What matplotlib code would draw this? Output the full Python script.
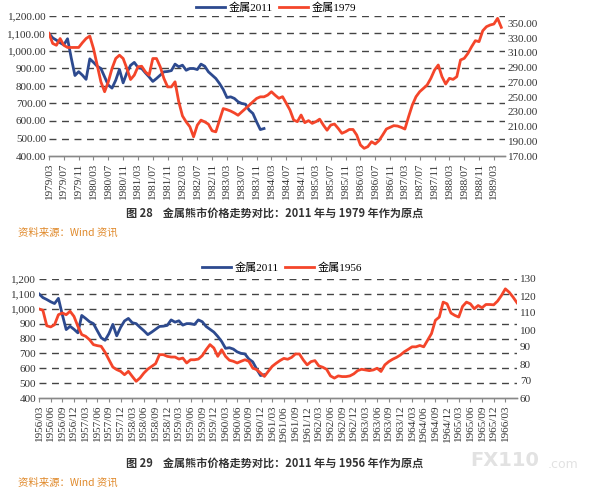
import matplotlib
matplotlib.use("Agg")
import matplotlib.pyplot as plt
import numpy as np

# ---------------- data ----------------
# 金属2011 index (same series used in both panels), monthly from start
metal2011 = [1100, 1075, 1062, 1047, 1035, 1070, 960, 860, 882, 862,
             838, 955, 935, 913, 900, 852, 805, 788, 833, 895,
             818, 875, 918, 935, 906, 900, 875, 852, 826, 843,
             862, 881, 883, 888, 925, 910, 919, 890, 900, 900,
             894, 925, 913, 881, 862, 843, 814, 780, 734, 738,
             729, 710, 700, 696, 662, 643, 595, 551, 557]

# 金属1979 index, monthly from 1979/03
metal1979 = [336.3, 322.7, 320.3, 329.4, 320.3, 317.3, 317.3, 317.3, 317.3, 323.7,
             329.4, 332.7, 315.8, 293.3, 270.7, 257.2, 270.7, 288.8, 302.3, 306.8,
             302.3, 288.8, 273.8, 279.7, 291.1, 291.8, 284.2, 279.7, 302.3, 302.3,
             291.1, 275.2, 263.8, 263.8, 270.7, 243.6, 224.4, 216.3, 209.7, 196.1,
             211.8, 218.7, 216.3, 213.2, 204.2, 202.8, 218.7, 234.4, 232.9, 231.0,
             228.4, 225.3, 229.9, 234.4, 238.9, 243.6, 248.1, 250.3, 250.3, 252.7,
             257.2, 252.5, 248.3, 250.5, 241.5, 232.4, 218.8, 216.6, 225.6, 215.2,
             218.0, 214.3, 216.6, 220.0, 212.0, 205.0, 212.0, 213.4, 207.5, 200.8,
             203.0, 206.0, 206.0, 198.5, 185.0, 180.4, 182.7, 189.4, 186.3, 190.8,
             198.5, 206.6, 208.9, 211.2, 210.7, 208.9, 206.6, 223.4, 239.2, 250.5,
             257.3, 261.8, 266.4, 275.4, 286.7, 293.5, 277.7, 267.7, 275.4, 274.0,
             277.7, 300.3, 302.5, 309.3, 318.4, 326.5, 325.2, 340.0, 345.5, 347.8,
             349.1, 356.8, 344.6]

# 金属1956 index, monthly from 1956/03
metal1956 = [112.4, 111.6, 102.5, 101.8, 103.1, 109.0, 110.0, 109.0, 111.0, 108.0,
             102.2, 97.3, 96.3, 94.3, 91.4, 90.8, 90.4, 86.9, 82.5, 78.2,
             76.7, 75.7, 73.7, 75.7, 72.7, 69.8, 71.8, 74.7, 77.0, 78.6,
             80.2, 85.5, 85.5, 84.5, 84.1, 84.1, 82.9, 83.5, 80.6, 82.5,
             82.5, 82.9, 84.9, 88.4, 91.4, 89.4, 84.5, 88.4, 84.5, 82.2,
             81.6, 80.6, 81.6, 82.5, 81.6, 77.6, 76.7, 74.7, 72.7, 75.7,
             78.6, 80.4, 82.0, 83.3, 82.8, 83.9, 85.9, 85.9, 82.4, 79.5,
             81.4, 82.0, 78.9, 78.1, 76.9, 73.0, 71.7, 73.0, 72.6, 72.6,
             73.0, 74.2, 76.1, 76.9, 76.5, 76.1, 76.5, 77.5, 75.6, 79.5,
             81.4, 82.8, 83.9, 85.3, 87.2, 88.6, 90.1, 90.1, 90.9, 90.1,
             94.0, 97.9, 105.7, 107.6, 116.4, 115.4, 110.0, 108.6, 107.6, 113.9,
             116.4, 115.4, 112.5, 114.4, 113.1, 115.0, 115.0, 114.8, 117.0, 120.3,
             124.2, 122.2, 119.3, 116.0]

top_start = (1979, 3)
bot_start = (1956, 3)
top_step = 4
bot_step = 3
n_top_months = 124
n_bot_months = 124

BLUE = "#2D4A8F"
RED = "#F4452A"
SERIF = ["Liberation Serif", "Noto Sans CJK SC"]
CJK = ["Noto Sans CJK SC", "Liberation Serif"]

plt.rcParams["font.family"] = SERIF


def month_labels(start, n):
    y, m = start
    out = []
    for i in range(n):
        mm = m - 1 + i
        out.append(f"{y + mm // 12}/{mm % 12 + 1:02d}")
    return out


fig = plt.figure(figsize=(5.95, 4.96), dpi=100)


def panel(rect, left_series, right_series, start, n_months, step,
          rlim, rticks, lfmt, rfmt, right_name, legend_xy):
    ax = fig.add_axes(rect)
    ax2 = ax.twinx()
    x_l = np.arange(len(left_series))
    x_r = np.arange(len(right_series))
    l1, = ax.plot(x_l, left_series, color=BLUE, lw=2.0, solid_joinstyle="round")
    l2, = ax2.plot(x_r, right_series, color=RED, lw=2.0, solid_joinstyle="round")
    ax.set_xlim(0, n_months - 1)
    ax.set_ylim(400, 1200)
    ax2.set_ylim(*rlim)
    lt = np.arange(400, 1201, 100)
    ax.set_yticks(lt)
    ax.set_yticklabels([lfmt(v) for v in lt], fontsize=8, color="#333333")
    ax2.set_yticks(rticks)
    ax2.set_yticklabels([rfmt(v) for v in rticks], fontsize=8, color="#333333")
    labels = month_labels(start, n_months)
    ticks = np.arange(0, n_months - 1, step)
    ax.set_xticks(ticks)
    ax.set_xticklabels([labels[t] for t in ticks], rotation=90,
                       fontsize=8, color="#333333")
    for v in range(500, 1201, 100):
        ax.axhline(v, color="#444444", lw=1.0, ls=(0, (5, 4)), zorder=0)
    for a in (ax, ax2):
        for s in ("top", "left", "right"):
            a.spines[s].set_visible(False)
        a.spines["bottom"].set_color("#888888")
        a.spines["bottom"].set_linewidth(1.0)
    ax.tick_params(axis="y", length=0, pad=2)
    ax2.tick_params(axis="y", length=0, pad=2)
    ax.tick_params(axis="x", length=3, color="#888888", pad=2)
    ax2.set_zorder(ax.get_zorder() + 1)
    ax.patch.set_visible(False)
    fig.legend([l1, l2], ["金属2011", right_name], loc="center",
               bbox_to_anchor=legend_xy, ncol=2, frameon=False,
               prop={"family": SERIF, "size": 8}, handlelength=2.6,
               columnspacing=0.6, handletextpad=0.3)
    return ax


top_rect = [49 / 595, 1 - 156 / 496, (505 - 49) / 595, (156 - 16) / 496]
bot_rect = [39 / 595, 1 - 398 / 496, (517 - 39) / 595, (398 - 279) / 496]

panel(top_rect, metal2011, metal1979, top_start, n_top_months, top_step,
      (170, 360), np.arange(170, 351, 20),
      lambda v: f"{v:,.2f}", lambda v: f"{v:.2f}", "金属1979",
      (276 / 595, 1 - 8 / 496))

panel(bot_rect, metal2011, metal1956, bot_start, n_bot_months, bot_step,
      (60, 130), np.arange(60, 131, 10),
      lambda v: f"{v:,.0f}", lambda v: f"{v:.0f}", "金属1956",
      (282 / 595, 1 - 268 / 496))

fig.text(275 / 595, 1 - 213 / 496,
         "图 28    金属熊市价格走势对比：2011 年与 1979 年作为原点",
         ha="center", va="center", fontsize=8, fontweight="bold",
         family=CJK, color="#333333")
fig.text(18 / 595, 1 - 233 / 496, "资料来源：Wind 资讯", ha="left",
         va="center", fontsize=7.5, family=CJK, color="#E0892A")
fig.text(275 / 595, 1 - 463 / 496,
         "图 29    金属熊市价格走势对比：2011 年与 1956 年作为原点",
         ha="center", va="center", fontsize=8, fontweight="bold",
         family=CJK, color="#333333")
fig.text(18 / 595, 1 - 483 / 496, "资料来源：Wind 资讯", ha="left",
         va="center", fontsize=7.5, family=CJK, color="#E0892A")
fig.text(470 / 595, 1 - 460 / 496, "FX110", ha="left", va="center",
         fontsize=14, fontweight="bold", family="DejaVu Sans",
         color="#E2E2E2")
fig.text(548 / 595, 1 - 464 / 496, ".com", ha="left", va="center",
         fontsize=9, family="DejaVu Sans", color="#E2E2E2")

fig.savefig("out.png", dpi=100)
